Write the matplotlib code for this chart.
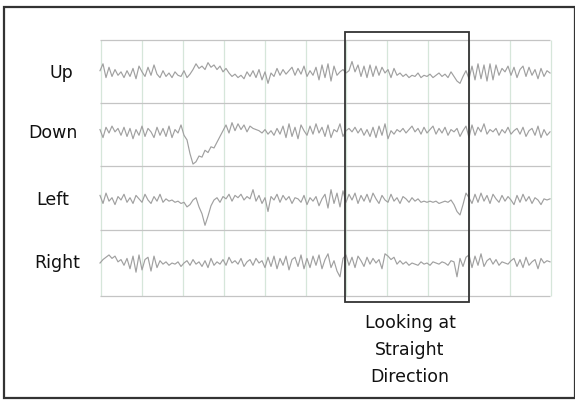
import numpy as np
import matplotlib
matplotlib.use("Agg")
import matplotlib.pyplot as plt
from matplotlib.patches import Rectangle

# ---- data (deviation of each trace, in display units, positive = up) ----
channels = ["Up", "Down", "Left", "Right"]

up_vals = [2, 8, -4, 5, -3, 3, -2, 1, -4, 2,
           -3, 4, -5, 6, 1, -3, 5, -2, 7, -1,
           -4, 2, -3, 0, -4, 1, -2, -3, 2, -4,
           -1, 3, 8, 4, 6, 3, 9, 5, 7, 3,
           6, 1, 4, 0, -3, -1, -4, -2, -5, 1,
           -3, 2, -4, 3, -6, 1, -9, 0, -3, 4,
           -2, 3, -1, 2, 5, -2, 4, -1, 6, -3,
           2, -2, 5, -6, 7, -4, 8, -7, 6, -2,
           1, 3, 0, 2, 10, 1, 7, -3, 6, -4,
           7, -3, 6, -2, 5, 0, 3, -4, 4, -2,
           0, -3, -1, -4, -2, -3, 0, -4, -2, -3,
           -1, -4, -2, 0, -3, -1, -4, 1, -3, -7,
           -9, -3, 2, -5, 6, -6, 8, -5, 7, -7,
           8, -6, 7, -2, 4, 1, 6, -2, 5, -4,
           3, 6, -3, 5, -2, 3, -5, 4, -3, 2,
           0]

down_vals = [3, -4, 5, 0, 6, 1, 4, -2, 5, -3,
             4, -5, 3, -2, 6, -3, 4, 1, -4, 5,
             -2, 4, -3, 6, -4, 3, 0, 7, -2, -6,
             -18, -27, -25, -20, -21, -15, -17, -12, -13, -8,
             -3, 2, 7, 0, 9, 2, 8, 3, 7, 1,
             6, 4, 3, 2, 0, 3, -1, 2, -2, 4,
             -1, 6, -4, 8, -3, 5, -5, 7, 2, -2,
             6, -1, 8, 0, 5, -3, 7, -4, 3, 1,
             8, -3, 2, 4, 1, 5, 0, 4, -2, 3,
             -3, 5, -4, 6, -2, 8, -5, 2, -1, 3,
             1, 4, 0, 3, 6, 1, 4, -1, 5, 0,
             3, 6, -1, 4, 0, 5, -2, 3, 1, 4,
             -3, 2, 6, -4, 7, -2, 5, 1, 8, -1,
             3, 1, 4, -2, 3, 0, 5, -1, 2, 4,
             -1, 5, -3, 2, 4, -2, 6, -4, 3, -2,
             1]

left_vals = [4, -3, 6, -1, 2, -4, 3, 0, 5, -2,
             2, -3, 4, 1, -2, 5, 0, -3, 3, -1,
             5, -2, 1, -1, 0, -2, -1, -3, -2, -6,
             -4, 0, 2, -6, -12, -22, -14, -5, 0, 2,
             -2, 3, 1, 5, -1, 4, 2, 5, 0, 3,
             1, 9, -1, 4, -3, 2, -10, 3, 0, 5,
             -2, 4, 0, 3, -3, 2, 1, -2, 4, -4,
             2, -1, 3, -5, 1, 5, -7, 9, -3, 6,
             -6, 8, -2, 5, 0, 6, -3, 4, -1, 5,
             -2, 6, 1, -3, 4, 0, -2, 5, -1, 2,
             -3, 3, 1, -2, 2, -1, 1, -2, -1, -2,
             -1, -2, -1, -3, -2, -1, -2, 0, -4, -10,
             -13, -4, 6, 2, -3, 5, -2, 6, -1, 4,
             -3, 5, 1, -2, 4, -1, 3, 0, -4, 4,
             -2, 5, -1, 3, -3, 2, 0, -4, 1, 0,
             1]

right_vals = [0, 3, 5, 7, 4, 6, 1, 3, -2, 4,
              -5, 6, -8, 7, -6, 3, 5, -7, 6, -4,
              2, -1, 1, -2, 0, -1, 1, -3, 0, 2,
              -2, 3, -1, 1, -3, 2, -4, 4, -2, 1,
              -1, 3, -2, 5, 0, 2, -1, 4, -3, 1,
              3, -2, 4, 0, 2, -4, 5, -3, 6, -5,
              4, -2, 6, -6, 3, 5, -3, 7, -5, 4,
              -4, 6, -2, 7, -5, 3, 8, -4, 2, -7,
              -12, 4, 7, -2, 5, -4, 6, 2, -3, 5,
              -1, 4, 0, 3, -5, 8, 6, 3, 5, -1,
              2, -1, 1, -2, 0, -1, -2, 1, -1, 0,
              -2, 1, 0, -1, 1, 0, -2, 2, 1, -12,
              4, -3, 5, 7, -4, 6, -2, 8, -3, 2,
              4, -1, 3, -2, 1, 0, -1, 2, 4, -3,
              3, -4, 5, -2, 1, 3, -5, 4, 0, 2,
              1]

box_label = "Looking at\nStraight\nDirection"

# ---- layout ----
W, H = 575, 401
fig = plt.figure(figsize=(W / 100, H / 100), dpi=100)
ax = fig.add_axes([0, 0, 1, 1])
ax.set_xlim(0, W)
ax.set_ylim(H, 0)
ax.axis("off")

x0, x1 = 100, 550
row_lines = [40, 103, 166, 230, 296]
centers = [73, 133, 200, 263]
label_x = [61, 53, 53, 57]
amp = 1.15

# grid
ax.vlines(np.round(np.linspace(x0, x1, 12)) + 0.5, row_lines[0], row_lines[-1],
          color="#d6e6da", lw=0.9, zorder=1)
ax.hlines(row_lines, x0, x1, color="#c4c4c4", lw=0.9, zorder=1)

# traces
series = [up_vals, down_vals, left_vals, right_vals]
for name, vals, cy, lx in zip(channels, series, centers, label_x):
    v = np.array(vals, dtype=float)
    xs = np.linspace(x0, x1, len(v))
    ax.plot(xs, cy - amp * v, color="#a0a0a0", lw=0.85, zorder=2)
    ax.text(lx, cy, name, ha="center", va="center", fontsize=12.5,
            family="DejaVu Sans", color="#111111")

# highlight box
ax.add_patch(Rectangle((345, 32), 469 - 345, 302 - 32, fill=False,
                       edgecolor="#333333", lw=1.3, zorder=3))
ax.text(410, 350, box_label, ha="center", va="center", fontsize=12.5,
        family="DejaVu Sans", color="#111111", linespacing=1.65)

# outer frame
ax.add_patch(Rectangle((4, 7), 570.5, 391, fill=False,
                       edgecolor="#333333", lw=1.6, zorder=3))

fig.savefig("out.png", dpi=100)
